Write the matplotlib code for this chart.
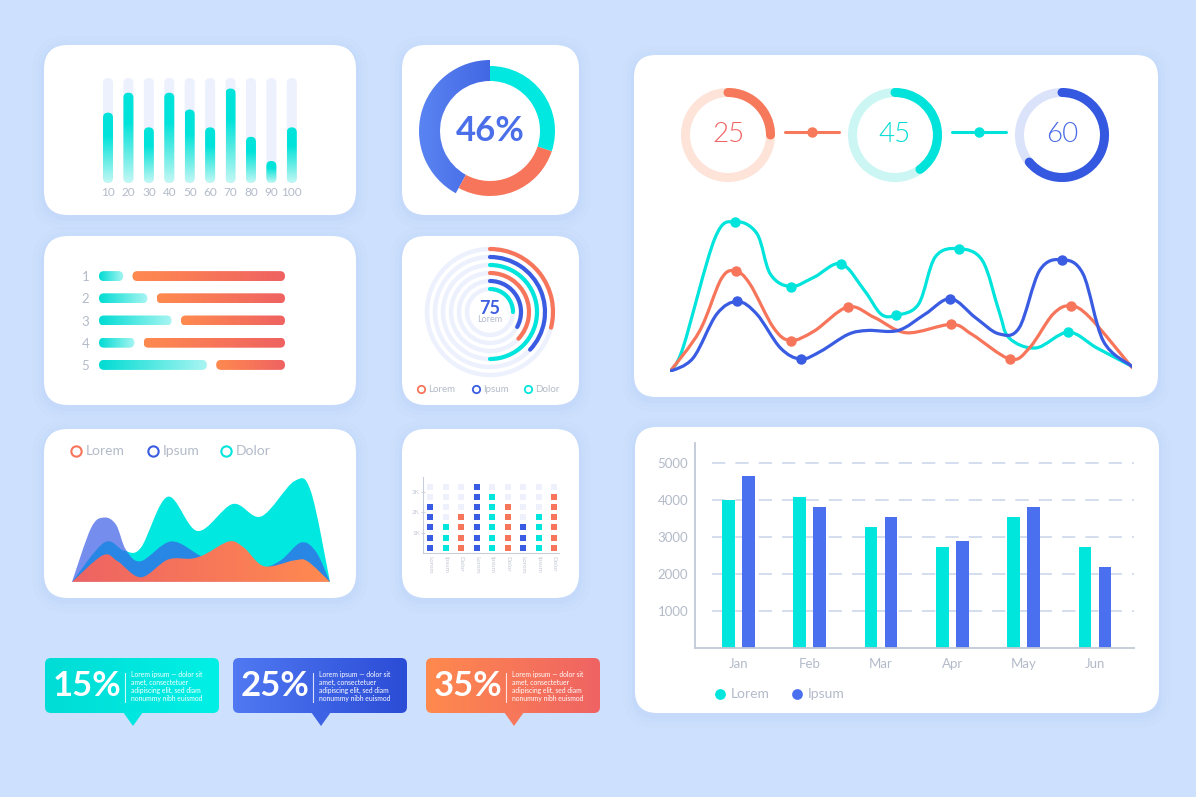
import numpy as np
import matplotlib
matplotlib.use("Agg")
import matplotlib.pyplot as plt
from matplotlib.patches import FancyBboxPatch, Wedge, Circle, Arc, PathPatch, Polygon
from matplotlib.path import Path
from matplotlib.colors import LinearSegmentedColormap

W, H = 1196, 797
plt.rcParams['font.family'] = ['Lato', 'DejaVu Sans']

# ---------------- data ----------------
col_labels = ['10', '20', '30', '40', '50', '60', '70', '80', '90', '100']
col_values = [67, 86, 53, 86, 70, 53, 90, 44, 21, 53]

donut_parts = [42, 28, 30]          # blue, orange, cyan share of the ring
donut_text = '46%'

row_labels = ['1', '2', '3', '4', '5']
row_cyan = [13, 26, 39, 19, 58]
row_orange = [82, 69, 56, 76, 37]

ring_values = [29, 37, 50, 37, 33, 25]   # outer -> inner
ring_text = '75'
names = ['Lorem', 'Ipsum', 'Dolor']

# area chart, x and y in % of the plot box
area_cyan_x = [0, 12.5, 20.3, 26.7, 37.1, 48.7, 62.3, 73.3, 86.2, 92.6, 100]
area_cyan_y = [0, 38, 30, 33, 82, 49, 75, 63, 97, 87, 0]
area_blue_x = [0, 7.4, 12.5, 17.1, 20.9, 26.7, 38.4, 50.0, 61.6, 73.3, 81.0, 88.8, 94.6, 100]
area_blue_y = [0, 52, 62, 55, 31, 20, 39, 25, 13, 13, 21, 38, 29, 0]
area_orange_x = [0, 11.9, 17.7, 26.7, 37.1, 46.1, 51.3, 61.0, 66.8, 74.5, 86.2, 91.3, 100]
area_orange_y = [0, 25.6, 19.9, 4.5, 21.5, 22.4, 26.3, 39.1, 32.7, 15.1, 20.8, 19.9, 0]

dot_labels = names * 3
dot_counts = [5, 3, 4, 7, 6, 5, 3, 4, 6]
dot_ticks = [1, 2, 3]
dot_ticklabels = ['1K', '2K', '3K']

gauge_text = ['25', '45', '60']
gauge_arcs = [25, 40, 64]

line_cyan_x = [0, 2.8, 9.7, 14.1, 18.8, 21.7, 26.1, 31.2, 37.0, 42.1, 45.7, 49.0, 53.8,
               57.4, 62.5, 67.6, 71.2, 73.4, 79.2, 86.2, 92.4, 100]
line_cyan_y = [0, 15.2, 85.9, 96.7, 89.1, 63.0, 54.8, 60.9, 69.6, 52.2, 37.0, 36.3, 43.5,
               73.9, 79.3, 71.7, 39.1, 21.7, 15.2, 25.4, 15.2, 3.3]
line_cyan_marks = [3, 6, 8, 11, 14, 19]
line_orange_x = [0, 6.4, 11.1, 14.2, 17.3, 22.4, 26.1, 31.2, 38.5, 44.3, 51.2, 60.9, 65.4,
                 73.6, 77.8, 82.9, 86.7, 90.9, 100]
line_orange_y = [0, 26.1, 59.8, 64.8, 56.5, 28.3, 20.0, 26.1, 41.7, 34.8, 25.0, 30.4, 23.9,
                 8.0, 15.2, 37.0, 42.4, 34.8, 2.6]
line_orange_marks = [3, 6, 8, 11, 13, 16]
line_blue_x = [0, 5.0, 10.1, 14.6, 18.8, 23.9, 28.3, 32.6, 38.5, 42.8, 49.4, 55.2, 60.7,
               66.1, 71.2, 75.6, 80.0, 84.8, 89.4, 93.8, 100]
line_blue_y = [0, 8.7, 37.0, 45.2, 37.0, 15.2, 8.0, 13.0, 23.9, 26.5, 26.5, 37.0, 47.0,
               34.8, 24.3, 28.3, 65.2, 72.2, 63.0, 19.6, 3.3]
line_blue_marks = [3, 6, 12, 17]

months = ['Jan', 'Feb', 'Mar', 'Apr', 'May', 'Jun']
lorem_vals = [4000, 4080, 3270, 2720, 3540, 2720]
ipsum_vals = [4640, 3820, 3540, 2900, 3820, 2180]
bar_ticks = [1000, 2000, 3000, 4000, 5000]

callout_values = ['15%', '25%', '35%']
callout_body = "Lorem ipsum \u2014 dolor sit\namet, consectetuer\nadipiscing elit, sed diam\nnonummy nibh euismod"

# ---------------- colours ----------------
BG = '#cde0fd'
GRAY = '#b3bbc9'
CYAN = '#00e5dc'
BLUE = '#4a70ef'
DBLUE = '#3a5ce2'
ORANGE = '#f7755a'
TRACK = '#edf1fd'


def px_axes(x0, y0, x1, y1):
    # axes placed by pixel box (top-left origin)
    ax = fig.add_axes([x0 / W, 1 - y1 / H, (x1 - x0) / W, (y1 - y0) / H])
    ax.patch.set_alpha(0)
    return ax


def px_scale(ax):
    bb = ax.get_position()
    x0, x1 = ax.get_xlim()
    y0, y1 = ax.get_ylim()
    return bb.width * W / abs(x1 - x0), bb.height * H / abs(y1 - y0)


def rbox(ax, x, y, w, h, r_px, fc, z=2):
    ppx, ppy = px_scale(ax)
    asp = ppx / ppy
    r = min(r_px / ppx, w / 2, h / asp / 2)
    p = FancyBboxPatch((x, y), w, h, boxstyle="round,pad=0,rounding_size=%f" % r,
                       mutation_aspect=asp, fc=fc, ec='none', zorder=z)
    ax.add_patch(p)
    return p


def gradient(ax, patch, extent, colors, horizontal=True):
    lims = ax.get_xlim(), ax.get_ylim()
    cmap = LinearSegmentedColormap.from_list('g', colors)
    g = np.linspace(0, 1, 256)
    arr = g[None, :] if horizontal else g[:, None]
    im = ax.imshow(arr, extent=extent, cmap=cmap, aspect='auto', origin='lower',
                   interpolation='bilinear', zorder=patch.get_zorder())
    im.set_clip_path(patch)
    patch.set_facecolor('none')
    ax.set_xlim(lims[0])
    ax.set_ylim(lims[1])


def smooth(xs, ys):
    # catmull-rom through the points, as cubic bezier pieces
    p = np.column_stack([xs, ys]).astype(float)
    n = len(p)
    verts = [p[0]]
    for i in range(n - 1):
        a, b, c, d = p[max(i - 1, 0)], p[i], p[i + 1], p[min(i + 2, n - 1)]
        verts += [b + (c - a) / 6, c - (d - b) / 6, c]
    codes = [Path.MOVETO] + [Path.CURVE4] * (3 * (n - 1))
    return verts, codes


def area_path(xs, ys):
    verts, codes = smooth(xs, ys)
    verts += [(xs[-1], 0), (xs[0], 0), (xs[0], 0)]
    codes += [Path.LINETO, Path.LINETO, Path.CLOSEPOLY]
    return Path(np.array(verts), codes)


def hide(ax):
    for s in ax.spines.values():
        s.set_visible(False)
    ax.set_xticks([])
    ax.set_yticks([])


fig = plt.figure(figsize=(W / 100, H / 100), dpi=100)
fig.patch.set_facecolor(BG)

bg = fig.add_axes([0, 0, 1, 1])
bg.set_xlim(0, W)
bg.set_ylim(H, 0)
bg.axis('off')

# white cards with a soft blue glow
panels = [(44, 45, 356, 215, 24), (402, 45, 579, 215, 24), (44, 236, 356, 405, 24),
          (402, 236, 579, 405, 24), (44, 429, 356, 598, 24), (402, 429, 579, 598, 24),
          (634, 55, 1158, 397, 22), (635, 427, 1159, 713, 22)]
for x0, y0, x1, y1, r in panels:
    for k, a in [(12, 0.03), (7, 0.04), (3, 0.05)]:
        bg.add_patch(FancyBboxPatch((x0 - k, y0 - k + 3), x1 - x0 + 2 * k, y1 - y0 + 2 * k,
                                    boxstyle="round,pad=0,rounding_size=%d" % (r + k),
                                    fc='#8fb4f2', ec='none', alpha=a, zorder=0))
    bg.add_patch(FancyBboxPatch((x0, y0), x1 - x0, y1 - y0,
                                boxstyle="round,pad=0,rounding_size=%d" % r,
                                fc='white', ec='none', zorder=1))

# ---- 1: vertical rounded bars ----
ax1 = px_axes(97.8, 78, 302, 183)
ax1.set_xlim(-0.5, 9.5)
ax1.set_ylim(0, 100)
for i, v in enumerate(col_values):
    rbox(ax1, i - 0.245, 0, 0.49, 100, 5, TRACK, z=1)
    b = rbox(ax1, i - 0.245, 0, 0.49, v, 5, CYAN, z=2)
    gradient(ax1, b, (i - 0.245, i + 0.245, 0, v),
             ['#c4f8f5', '#62ece5', '#00e3da', '#00e3da'], horizontal=False)
for s in ax1.spines.values():
    s.set_visible(False)
ax1.set_yticks([])
ax1.set_xticks(range(len(col_labels)), col_labels)
ax1.tick_params(axis='x', length=0, pad=3, labelsize=8.5, labelcolor=GRAY)

# ---- 2: donut ----
ax2 = px_axes(415, 56, 565, 206)
ax2.set_xlim(-75, 75)
ax2.set_ylim(-75, 75)
hide(ax2)
th = 90
for val, (ro, wd), col in zip(donut_parts, [(71, 21), (65, 15), (65, 15)],
                              [BLUE, ORANGE, '#00e8df']):
    w = Wedge((0, 0), ro, th, th + val * 3.6, width=wd, fc=col, ec='none')
    ax2.add_patch(w)
    if col == BLUE:
        gradient(ax2, w, (-71, 71, -71, 71), ['#5a84f2', '#2c4bd5'])
    th += val * 3.6
ax2.text(0, 0, donut_text, ha='center', va='center', fontsize=25, fontweight='bold',
         color='#4a6fe8')

# ---- 3: split horizontal bars ----
ax3 = px_axes(99, 265, 285, 376)
ax3.set_xlim(0, 100)
ax3.set_ylim(5.5, 0.5)
for i, (c, o) in enumerate(zip(row_cyan, row_orange)):
    y = i + 1 - 0.225
    b = rbox(ax3, 0, y, c, 0.45, 5, CYAN)
    gradient(ax3, b, (0, c, y, y + 0.45), ['#00dcd3', '#a9f5f2'])
    b = rbox(ax3, 100 - o, y, o, 0.45, 5, ORANGE)
    gradient(ax3, b, (100 - o, 100, y, y + 0.45), ['#ff8a4f', '#ef6262'])
for s in ax3.spines.values():
    s.set_visible(False)
ax3.set_xticks([])
ax3.set_yticks(range(1, 6), row_labels)
ax3.tick_params(axis='y', length=0, pad=7, labelsize=9.5, labelcolor=GRAY)

# ---- 4: concentric rings ----
ax4 = px_axes(420, 242, 560, 382)
ax4.set_xlim(-70, 70)
ax4.set_ylim(-70, 70)
hide(ax4)
ring_cols = [ORANGE, DBLUE, CYAN] * 2
for k, (v, col) in enumerate(zip(ring_values, ring_cols)):
    r = 63 - 8 * k
    ax4.add_patch(Circle((0, 0), r, fill=False, ec=TRACK, lw=3.2))
    ax4.add_patch(Arc((0, 0), 2 * r, 2 * r, theta1=90 - 3.6 * v, theta2=90, ec=col,
                      lw=3, capstyle='round'))
ax4.text(0, 4, ring_text, ha='center', va='center', fontsize=13, fontweight='bold',
         color='#3e5fe0')
ax4.text(0, -8, names[0], ha='center', va='center', fontsize=6.5, color=GRAY)
for x, name, col in zip([421, 476, 528], names, [ORANGE, DBLUE, CYAN]):
    bg.scatter(x, 389, s=28, facecolors='white', edgecolors=col, lw=1.3, zorder=3)
    bg.text(x + 7, 389, name, fontsize=7, color=GRAY, va='center', zorder=3)

# ---- 5: layered areas ----
ax5 = px_axes(72, 478, 330, 582)
ax5.set_xlim(0, 100)
ax5.set_ylim(0, 100)
hide(ax5)
ax5.add_patch(PathPatch(area_path(area_cyan_x, area_cyan_y), fc='#00e8df', ec='none', zorder=1))
ax5.add_patch(PathPatch(area_path(area_blue_x, area_blue_y), fc='#3a5ee8', ec='none',
                        alpha=0.7, zorder=2))
p = PathPatch(area_path(area_orange_x, area_orange_y), fc=ORANGE, ec='none', zorder=3)
ax5.add_patch(p)
gradient(ax5, p, (0, 100, 0, 100), ['#ee6363', '#ff8a50'])
ax5.axhline(0, color='#c9bfe9', lw=1, zorder=4)
for x, name, col in zip([76, 153, 226], names, [ORANGE, DBLUE, CYAN]):
    bg.scatter(x, 451, s=55, facecolors='white', edgecolors=col, lw=1.5, zorder=3)
    bg.text(x + 10, 451, name, fontsize=10, color=GRAY, va='center', zorder=3)

# ---- 6: dot matrix ----
ax6 = px_axes(423, 477, 559, 553)
ax6.set_xlim(-0.45, 8.3)
ax6.set_ylim(0, 3.72)
dot_cols = [DBLUE, CYAN, ORANGE] * 3
for i, (n, col) in enumerate(zip(dot_counts, dot_cols)):
    for j in range(7):
        ax6.scatter(i, 0.25 + 0.5 * j, s=18, marker='s',
                    color=col if j < n else '#eef1fc', lw=0, clip_on=False)
ax6.spines['top'].set_visible(False)
ax6.spines['right'].set_visible(False)
for s in ['left', 'bottom']:
    ax6.spines[s].set_color('#c8cdd9')
    ax6.spines[s].set_linewidth(0.8)
ax6.set_yticks(dot_ticks, dot_ticklabels)
ax6.set_xticks(range(9), dot_labels, rotation=-90)
ax6.tick_params(axis='y', length=2.5, width=0.6, color='#c8cdd9', direction='inout',
                labelsize=4.5, labelcolor='#c3c8d3', pad=1)
ax6.tick_params(axis='x', length=0, labelsize=4.5, labelcolor='#c3c8d3', pad=2)

# ---- 7: gauges + smooth lines ----
axg = px_axes(634, 75, 1158, 195)
axg.set_xlim(0, 524)
axg.set_ylim(0, 120)
hide(axg)
g_pale = ['#fde3d8', '#cbf6f3', '#dbe3fb']
g_col = ['#f7795b', '#00e3da', '#3558e0']
g_txt = ['#f06464', '#00dcd4', '#4a6be6']
for i, (t, v) in enumerate(zip(gauge_text, gauge_arcs)):
    cx = 94 + 167 * i
    axg.add_patch(Circle((cx, 60), 42.5, fill=False, ec=g_pale[i], lw=6.5))
    axg.add_patch(Arc((cx, 60), 85, 85, theta1=90 - 3.6 * v, theta2=90, ec=g_col[i],
                      lw=6.5, capstyle='round'))
    axg.text(cx, 60, t, ha='center', va='center', fontsize=20, fontweight=300,
             color=g_txt[i])
for i in range(2):
    mid = 94 + 167 * i + 83.5
    axg.plot([mid - 27, mid + 27], [63, 63], color=g_col[i], lw=2.2, solid_capstyle='round')
    axg.plot(mid, 63, 'o', ms=6.5, color=g_col[i])

axl = px_axes(670, 216.6, 1132, 371.5)
axl.set_xlim(0, 100)
axl.set_ylim(0, 100)
hide(axl)
for xs, ys, marks, col, z in [(line_cyan_x, line_cyan_y, line_cyan_marks, '#00e4dc', 1),
                              (line_orange_x, line_orange_y, line_orange_marks, ORANGE, 2),
                              (line_blue_x, line_blue_y, line_blue_marks, DBLUE, 3)]:
    v, c = smooth(xs, ys)
    axl.add_patch(PathPatch(Path(np.array(v), c), fill=False, ec=col, lw=2.3,
                            capstyle='round', zorder=z))
    axl.plot([xs[m] for m in marks], [ys[m] for m in marks], 'o', ms=6.5, color=col,
             zorder=z, clip_on=False)

# ---- 8: grouped bars ----
axb = px_axes(695.3, 443, 1134, 648)
x = np.arange(len(months))
axb.hlines(bar_ticks, -0.372, 5.547, colors='#cdd8ec', lw=1.2, linestyles=(0, (8, 6)),
           zorder=0)
axb.bar(x - 0.14, lorem_vals, width=0.178, color=CYAN, zorder=2)
axb.bar(x + 0.14, ipsum_vals, width=0.178, color=BLUE, zorder=2)
axb.set_xlim(-0.606, 5.547)
axb.set_ylim(0, 5535)
axb.spines['top'].set_visible(False)
axb.spines['right'].set_visible(False)
for s in ['left', 'bottom']:
    axb.spines[s].set_color('#c2c9d6')
    axb.spines[s].set_linewidth(1.3)
axb.set_yticks(bar_ticks, [str(t) for t in bar_ticks])
axb.set_xticks(x, months)
axb.tick_params(axis='y', length=0, pad=5, labelsize=9.5, labelcolor=GRAY)
axb.tick_params(axis='x', length=0, pad=7, labelsize=9.5, labelcolor=GRAY)
for xx, name, col in zip([720, 797], names[:2], [CYAN, BLUE]):
    bg.scatter(xx, 694, s=60, color=col, lw=0, zorder=3)
    bg.text(xx + 11, 694, name, fontsize=10, color=GRAY, va='center', zorder=3)

# ---- callouts ----
c_grad = [['#00dcd6', '#00f0e6'], ['#5079f2', '#2b4cd6'], ['#ff8a4e', '#ef6363']]
c_tail = ['#00e7df', '#3d63e4', '#f7775a']
for x0, t, gc, tc in zip([45, 233, 426], callout_values, c_grad, c_tail):
    b = FancyBboxPatch((x0, 658), 174, 55, boxstyle="round,pad=0,rounding_size=6",
                       fc=tc, ec='none', zorder=2)
    bg.add_patch(b)
    gradient(bg, b, (x0, x0 + 174, 713, 658), gc)
    cx = x0 + 88
    bg.add_patch(Polygon([(cx - 10, 712), (cx + 10, 712), (cx, 726)], closed=True,
                         fc=tc, ec='none', zorder=2))
    bg.text(x0 + 8, 686, t, fontsize=25, fontweight='bold', color='white',
            va='center', ha='left', zorder=3)
    bg.plot([x0 + 80, x0 + 80], [673, 702], color='white', lw=0.8, alpha=0.8, zorder=3)
    bg.text(x0 + 86, 686.5, callout_body, fontsize=4.9, color='white', va='center',
            ha='left', linespacing=1.15, zorder=3)

bg.set_xlim(0, W)
bg.set_ylim(H, 0)

fig.savefig('out.png', dpi=100, facecolor=BG)
